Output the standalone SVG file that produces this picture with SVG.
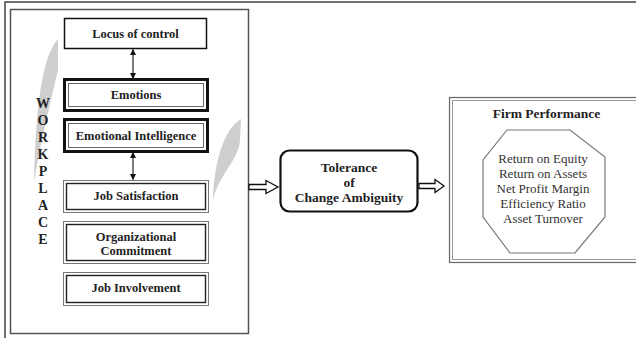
<svg xmlns="http://www.w3.org/2000/svg" width="636" height="338" viewBox="0 0 636 338">
<defs>
<style>
text{font-family:"Liberation Serif","Times New Roman","DejaVu Serif",serif}
.lbl{font-weight:bold;font-size:12.5px;fill:#222;text-anchor:middle}
.big{font-size:13.5px}
.reg{font-size:13px;fill:#333;text-anchor:middle}
.let{font-weight:bold;font-size:14px;fill:#222;text-anchor:middle}
.thick{fill:#fff;stroke:#111;stroke-width:3}
.thin{fill:none;stroke:#666;stroke-width:1}
.dblo{fill:#fff;stroke:#777;stroke-width:1}
.dbli{fill:none;stroke:#222;stroke-width:1.4}
.conn{stroke:#222;stroke-width:1.2;fill:none}
.hollow{fill:#fff;stroke:#111;stroke-width:1.3}
.swoosh{fill:#cfcfcf}
</style>
<marker id="ah" viewBox="0 0 10 10" refX="9" refY="5" markerWidth="6" markerHeight="7" markerUnits="userSpaceOnUse" orient="auto-start-reverse">
<path d="M0,0 L10,5 L0,10 Z" fill="#111"/>
</marker>
</defs>
<rect x="0" y="0" width="636" height="338" fill="#fff"/>
<rect x="5" y="2" width="640" height="345" fill="none" stroke="#444" stroke-width="1.5"/>

<g id="workplace">
<rect x="10.5" y="9.5" width="238" height="324" fill="#fff" stroke="#555" stroke-width="1.5"/>
<path class="swoosh" d="M58,39 C44,55 36,95 34,182 C41,140 51,100 58,70 Z"/>
<path class="swoosh" d="M241,119 C225,128 214,160 213,200 C220,172 239,160 240,140 Z"/>
<text class="let" x="43" y="108">W</text>
<text class="let" x="43" y="125">O</text>
<text class="let" x="43" y="142">R</text>
<text class="let" x="43" y="159">K</text>
<text class="let" x="43" y="176">P</text>
<text class="let" x="43" y="193">L</text>
<text class="let" x="43" y="210">A</text>
<text class="let" x="43" y="227">C</text>
<text class="let" x="43" y="244">E</text>
</g>

<g id="locus">
<rect x="64.5" y="18.5" width="142" height="30" fill="#fff" stroke="#111" stroke-width="1.5"/>
<text class="lbl" x="135.5" y="37.5">Locus of control</text>
</g>
<g id="emotions">
<rect class="thick" x="64.5" y="79.5" width="143" height="31"/>
<rect class="thin" x="68.5" y="83.5" width="135" height="23"/>
<text class="lbl" x="136" y="99">Emotions</text>
</g>
<g id="ei">
<rect class="thick" x="64.5" y="119.5" width="143" height="32"/>
<rect class="thin" x="68.5" y="123.5" width="135" height="24"/>
<text class="lbl" x="136" y="140">Emotional Intelligence</text>
</g>
<g id="js">
<rect class="dblo" x="63.5" y="180.5" width="145" height="32"/>
<rect class="dbli" x="66.5" y="183.5" width="139" height="26"/>
<text class="lbl" x="136" y="199.5">Job Satisfaction</text>
</g>
<g id="oc">
<rect class="dblo" x="63.5" y="221.5" width="145" height="42"/>
<rect class="dbli" x="66.5" y="224.5" width="139" height="36"/>
<text class="lbl" x="136" y="240.5">Organizational</text>
<text class="lbl" x="136" y="254.5">Commitment</text>
</g>
<g id="ji">
<rect class="dblo" x="63.5" y="272.5" width="145" height="33"/>
<rect class="dbli" x="66.5" y="275.5" width="139" height="27"/>
<text class="lbl" x="136" y="292">Job Involvement</text>
</g>

<g id="tolerance">
<rect x="280.5" y="150.5" width="137" height="61" rx="9" ry="9" fill="#fff" stroke="#111" stroke-width="2.2"/>
<text class="lbl big" x="349" y="171.5">Tolerance</text>
<text class="lbl big" x="349" y="186.5">of</text>
<text class="lbl big" x="349" y="201.5">Change Ambiguity</text>
</g>

<g id="firm">
<rect x="449.5" y="97.5" width="200" height="165" fill="#fff" stroke="#666" stroke-width="1.2"/>
<rect x="452.5" y="100.5" width="194" height="159" fill="none" stroke="#999" stroke-width="1"/>
<text class="lbl big" x="546.5" y="117.5">Firm Performance</text>
<polygon points="507,130 570,130 605,157 605,217 575,253 510,253 483,217 483,160" fill="#fff" stroke="#777" stroke-width="1.2"/>
<text class="reg" x="543" y="162.5">Return on Equity</text>
<text class="reg" x="543" y="177.5">Return on Assets</text>
<text class="reg" x="543" y="192.5">Net Profit Margin</text>
<text class="reg" x="543" y="207.5">Efficiency Ratio</text>
<text class="reg" x="543" y="222.5">Asset Turnover</text>
</g>

<g id="connectors">
<line class="conn" x1="133" y1="49.5" x2="133" y2="78.5" marker-start="url(#ah)" marker-end="url(#ah)"/>
<line class="conn" x1="133" y1="152.5" x2="133" y2="179.5" marker-start="url(#ah)" marker-end="url(#ah)"/>
<polygon class="hollow" points="249,184.5 266,184.5 266,180.5 278,187 266,193.5 266,189.5 249,189.5"/>
<polygon class="hollow" points="419,183.5 435,183.5 435,179.5 444,186 435,192.5 435,188.5 419,188.5"/>
</g>
</svg>
